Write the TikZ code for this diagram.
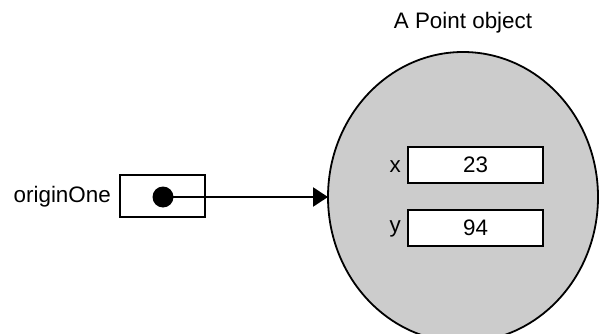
\documentclass[tikz,border=0pt]{standalone}
\usepackage{fontspec}
\setmainfont{Liberation Sans}
\usetikzlibrary{arrows.meta,shapes.geometric}
\definecolor{objfill}{HTML}{CCCCCC}
\tikzset{
  lab/.style={font=\fontsize{22.4}{26}\selectfont, inner sep=0pt},
  field/.style={draw, line width=2pt, fill=white, minimum width=135pt, minimum height=36pt, inner sep=0pt, font=\fontsize{22.4}{26}\selectfont},
  refbox/.style={draw, line width=2pt, minimum width=85pt, minimum height=42pt, inner sep=0pt},
  refdot/.style={circle, fill=black, minimum size=21pt, inner sep=0pt},
  obj/.style={ellipse, draw, line width=1.8pt, fill=objfill, minimum width=270pt, minimum height=290pt, inner sep=0pt, outer sep=0pt},
  refarrow/.style={line width=2.4pt, -{Triangle[length=15pt, width=19pt]}}
}
\begin{document}
\begin{tikzpicture}[x=1pt, y=-1pt]
\useasboundingbox (0,0) rectangle (599,334);
% the object
\node[obj] (point) at (463,197) {};
\node[lab] (title) at (463,23) {A Point object};
\node[field] (xval) at (475.5,165) {23};
\node[field] (yval) at (475.5,227.5) {94};
\node[lab, anchor=east] (xlab) at (401,167) {x};
\node[lab, anchor=east] (ylab) at (401,229) {y};

% the reference
\node[refbox] (ref) at (162.5,196) {};
\node[refdot] (dot) at (163,197) {};
\node[lab, anchor=east] (name) at (111,197) {originOne};
\draw[refarrow] (dot.center) -- (point.west);
\end{tikzpicture}
\end{document}
